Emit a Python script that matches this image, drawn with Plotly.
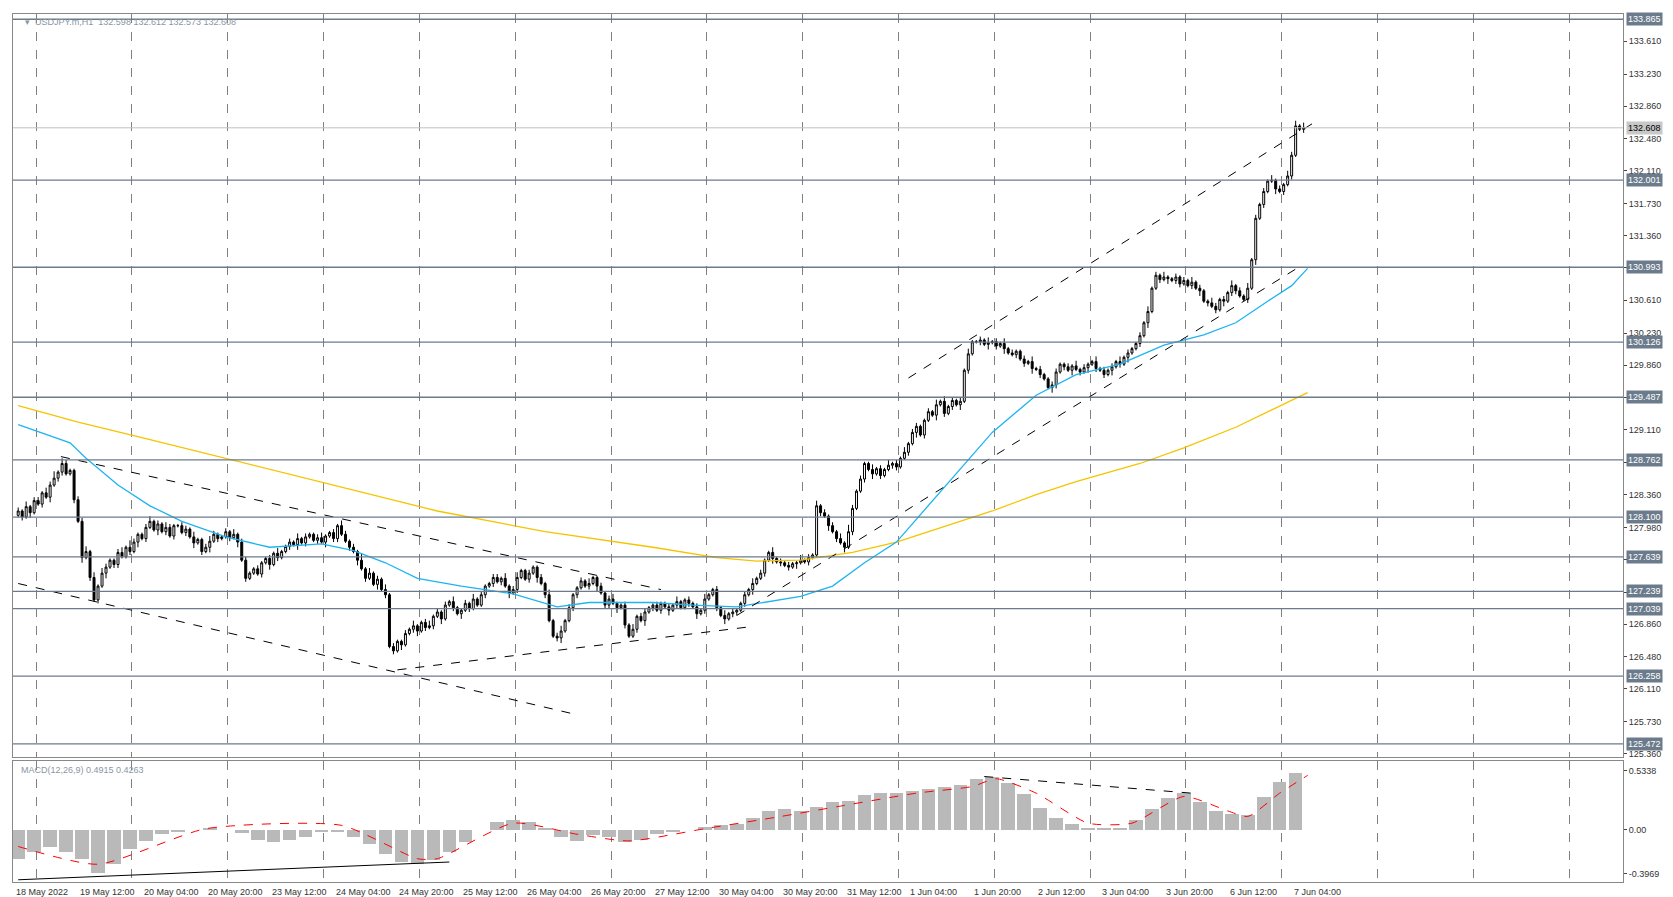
import plotly.graph_objects as go
from plotly.subplots import make_subplots

# hourly closes USDJPY, 18 May 2022 -> 7 Jun 04:00
closes = [
    128.17, 128.10, 128.22, 128.15, 128.29, 128.25, 128.38, 128.33, 128.47, 128.55, 128.62, 128.72, 128.60, 128.64, 128.30, 128.05, 127.63, 127.70, 127.40, 127.14,
    127.30, 127.45, 127.52, 127.60, 127.55, 127.69, 127.64, 127.75, 127.70, 127.81, 127.90, 127.85, 127.98, 128.05, 127.95, 128.02, 127.93, 127.98, 127.88, 128.00,
    128.00, 127.92, 127.96, 127.87, 127.80, 127.84, 127.70, 127.75, 127.82, 127.90, 127.85, 127.87, 127.93, 127.86, 127.90, 127.81, 127.60, 127.39, 127.45, 127.50,
    127.44, 127.57, 127.62, 127.55, 127.68, 127.63, 127.70, 127.76, 127.81, 127.78, 127.85, 127.80, 127.87, 127.90, 127.83, 127.86, 127.81, 127.88, 127.92, 127.85,
    128.00, 127.90, 127.82, 127.75, 127.70, 127.60, 127.50, 127.39, 127.45, 127.32, 127.38, 127.26, 127.20, 126.60, 126.55, 126.66, 126.62, 126.75, 126.80, 126.84,
    126.78, 126.88, 126.82, 126.84, 126.95, 127.00, 126.92, 127.08, 127.12, 127.05, 126.98, 127.02, 127.10, 127.04, 127.15, 127.08, 127.20, 127.30, 127.33, 127.40,
    127.35, 127.39, 127.30, 127.22, 127.26, 127.40, 127.48, 127.38, 127.45, 127.52, 127.40, 127.33, 127.20, 126.90, 126.72, 126.70, 126.78, 126.90, 127.05, 127.20,
    127.28, 127.36, 127.30, 127.33, 127.40, 127.30, 127.22, 127.08, 127.15, 127.10, 127.05, 127.08, 126.85, 126.72, 126.80, 126.95, 126.90, 127.00, 127.05, 127.08,
    127.02, 127.10, 127.06, 127.02, 127.08, 127.12, 127.05, 127.14, 127.10, 127.06, 126.98, 127.02, 127.15, 127.20, 127.26, 127.05, 126.96, 126.92, 126.98, 127.00,
    127.02, 127.10, 127.20, 127.26, 127.33, 127.39, 127.45, 127.60, 127.69, 127.62, 127.58, 127.57, 127.54, 127.52, 127.56, 127.57, 127.60, 127.58, 127.63, 127.66,
    128.23, 128.15, 128.11, 128.00, 127.93, 127.85, 127.80, 127.75, 127.93, 128.20, 128.40, 128.54, 128.72, 128.65, 128.60, 128.66, 128.58, 128.65, 128.70, 128.72,
    128.68, 128.78, 128.85, 128.95, 129.08, 129.15, 129.05, 129.22, 129.32, 129.28, 129.40, 129.44, 129.30, 129.38, 129.45, 129.40, 129.44, 129.80, 129.99, 130.13,
    130.13, 130.15, 130.10, 130.12, 130.13, 130.08, 130.11, 130.05, 130.00, 129.98, 130.02, 129.93, 129.88, 129.90, 129.82, 129.81, 129.75, 129.70, 129.60, 129.63,
    129.78, 129.87, 129.84, 129.80, 129.85, 129.81, 129.78, 129.83, 129.87, 129.90, 129.82, 129.80, 129.75, 129.80, 129.84, 129.90, 129.87, 129.95, 130.00, 130.05,
    130.11, 130.20, 130.35, 130.48, 130.75, 130.90, 130.85, 130.88, 130.86, 130.84, 130.88, 130.80, 130.84, 130.78, 130.82, 130.75, 130.72, 130.60, 130.58, 130.54,
    130.50, 130.62, 130.60, 130.70, 130.78, 130.72, 130.66, 130.62, 130.75, 131.08, 131.56, 131.72, 131.87, 131.99, 132.00, 131.90, 131.87, 131.95, 132.05, 132.29,
    132.63, 132.59, 132.608,
]
first_open = 128.12

# wick lengths in units of 0.02 (upper / lower), one digit per bar
wick_hi = ("21312213241321122313" "13211231421123121321" "12213112321121312211" "21121311213121123112"
           "13212141312131211213" "11231212131121312112" "21312311211213123121" "12131121231121312211"
           "21121311212131121312" "11213121131212113121" "31212131421211312131" "21312211213131212131"
           "12131213121121312112" "21121312113121213121" "12131213112121312113" "21213121312121312132"
           "31321")
wick_lo = ("12131121312211213121" "21312211213121131212" "11213121312112131211" "12131211213121121312"
           "21121312113121213112" "31212131121312111212" "12131211213121123112" "21121312213121121312"
           "12131211213121121312" "21213112131212131121" "12131213121121312112" "21121312113121213121"
           "12131213112121312113" "21213121312121312131" "12131121312211213121" "21312211213121131212"
           "11211")

# moving averages (bar index, value)
ma_fast_idx = [0, 9, 13, 17, 25, 33, 41, 52, 63, 76, 84, 92, 100, 111, 124, 135, 143, 159, 169, 180,
               191, 196, 204, 212, 220, 228, 236, 244, 255, 265, 276, 287, 297, 305, 313, 319, 323]
ma_fast_val = [129.17, 129.02, 128.96, 128.78, 128.47, 128.23, 128.05, 127.87, 127.75, 127.79, 127.71, 127.57,
               127.39, 127.30, 127.21, 127.06, 127.11, 127.11, 127.08, 127.06, 127.14, 127.18, 127.30, 127.57,
               127.81, 128.23, 128.66, 129.08, 129.51, 129.75, 129.87, 130.09, 130.21, 130.35, 130.60, 130.78, 130.98]
ma_slow_idx = [0, 15, 31, 52, 79, 105, 132, 159, 175, 185, 196, 209, 220, 233, 244, 255, 265, 281, 292, 305, 316, 323]
ma_slow_val = [129.39, 129.20, 129.02, 128.78, 128.47, 128.17, 127.93, 127.75, 127.63, 127.59, 127.60, 127.69,
               127.81, 128.00, 128.17, 128.36, 128.51, 128.72, 128.90, 129.14, 129.39, 129.54]

# MACD histogram, one value every 4 bars
macd_hist = [-0.26, -0.20, -0.15, -0.20, -0.26, -0.39, -0.31, -0.17, -0.10, -0.04, -0.02, 0.00, 0.01, 0.00,
             -0.03, -0.09, -0.11, -0.09, -0.06, -0.02, -0.02, -0.06, -0.13, -0.22, -0.29, -0.31, -0.27, -0.20,
             -0.11, 0.00, 0.07, 0.09, 0.07, 0.02, -0.06, -0.10, -0.05, -0.06, -0.11, -0.09, -0.04, -0.02, 0.00,
             0.03, 0.04, 0.05, 0.11, 0.17, 0.19, 0.17, 0.21, 0.25, 0.26, 0.31, 0.33, 0.33, 0.35, 0.37, 0.39, 0.40,
             0.46, 0.48, 0.42, 0.32, 0.20, 0.11, 0.05, 0.02, 0.01, 0.02, 0.09, 0.19, 0.29, 0.33, 0.25, 0.17, 0.14,
             0.13, 0.30, 0.43, 0.51]
signal_idx = [0, 20, 47, 81, 100, 105, 124, 140, 153, 172, 191, 207, 225, 239, 245, 255, 268, 279, 292, 303, 308, 316, 323]
signal_val = [-0.15, -0.31, 0.01, 0.04, -0.26, -0.26, 0.06, -0.04, -0.10, 0.01, 0.12, 0.22, 0.33, 0.39, 0.46,
              0.33, 0.06, 0.06, 0.30, 0.17, 0.12, 0.33, 0.49]

price_ticks = [133.610, 133.230, 132.860, 132.480, 132.110, 131.730, 131.360, 130.990, 130.610, 130.230,
               129.860, 129.480, 129.110, 128.730, 128.360, 127.980, 127.610, 127.230, 126.860, 126.480,
               126.110, 125.730, 125.360]
levels = [133.865, 132.001, 130.993, 130.126, 129.487, 128.762, 128.100, 127.639, 127.239, 127.039, 126.258, 125.472]
last_price = 132.608

time_labels = ["18 May 2022", "19 May 12:00", "20 May 04:00", "20 May 20:00", "23 May 12:00", "24 May 04:00",
               "24 May 20:00", "25 May 12:00", "26 May 04:00", "26 May 20:00", "27 May 12:00", "30 May 04:00",
               "30 May 20:00", "31 May 12:00", "1 Jun 04:00", "1 Jun 20:00", "2 Jun 12:00", "3 Jun 04:00",
               "3 Jun 20:00", "6 Jun 12:00", "7 Jun 04:00"]

# hand-drawn trend lines: (bar0, price0, bar1, price1)
trend_lines = [(10.7, 128.80, 161, 127.26), (0, 127.33, 140, 125.81), (95, 126.33, 183.5, 126.83),
               (180, 126.96, 321, 131.00), (223, 129.71, 325, 132.68)]
macd_lines = [((242, 0.48, 294, 0.33), "dash"), ((0, -0.45, 108, -0.29), "solid")]

n = len(closes)
idx = list(range(n))
opens = [first_open] + closes[:-1]
highs = [max(o, c) + 0.02 * int(w) for o, c, w in zip(opens, closes, wick_hi)]
lows = [min(o, c) - 0.02 * int(w) for o, c, w in zip(opens, closes, wick_lo)]

FONT = "Liberation Sans"
GRID = "#808080"
LEVEL = "#6b7b8c"

fig = make_subplots(rows=2, cols=1, shared_xaxes=True, row_heights=[0.86, 0.14], vertical_spacing=0.004)

fig.add_trace(go.Candlestick(
    x=idx, open=opens, high=highs, low=lows, close=closes,
    increasing=dict(line=dict(color="black", width=1), fillcolor="white"),
    decreasing=dict(line=dict(color="black", width=1), fillcolor="black"),
    whiskerwidth=0, showlegend=False, hoverinfo="skip"), row=1, col=1)
fig.add_trace(go.Scatter(x=ma_slow_idx, y=ma_slow_val, mode="lines", line=dict(color="#f5c400", width=1.3),
                         showlegend=False, hoverinfo="skip"), row=1, col=1)
fig.add_trace(go.Scatter(x=ma_fast_idx, y=ma_fast_val, mode="lines", line=dict(color="#1eb4f0", width=1.3),
                         showlegend=False, hoverinfo="skip"), row=1, col=1)
for x0, y0, x1, y1 in trend_lines:
    fig.add_trace(go.Scatter(x=[x0, x1], y=[y0, y1], mode="lines", line=dict(color="black", width=1, dash="dash"),
                             showlegend=False, hoverinfo="skip"), row=1, col=1)

fig.add_trace(go.Bar(x=list(range(0, 4 * len(macd_hist), 4)), y=macd_hist, width=3.4,
                     marker=dict(color="#b9b9b9", line=dict(width=0)), showlegend=False, hoverinfo="skip"), row=2, col=1)
fig.add_trace(go.Scatter(x=signal_idx, y=signal_val, mode="lines", line=dict(color="red", width=1, dash="dash", shape="spline", smoothing=0.6),
                         showlegend=False, hoverinfo="skip"), row=2, col=1)
for (x0, y0, x1, y1), dash in macd_lines:
    fig.add_trace(go.Scatter(x=[x0, x1], y=[y0, y1], mode="lines", line=dict(color="black", width=1, dash=dash),
                             showlegend=False, hoverinfo="skip"), row=2, col=1)

grid_x = [4.5 + 24 * k for k in range(17)]
xr = [-1.3, 402]
fig.update_xaxes(range=xr, tickvals=grid_x, showticklabels=False, showgrid=True, gridcolor=GRID, griddash="dash",
                 gridwidth=1, zeroline=False, rangeslider=dict(visible=False), showline=True, linecolor="#888", mirror=True)

tickfont = dict(family=FONT, size=9, color="#333")
fig.update_yaxes(row=1, col=1, range=[125.315, 133.926], side="right", tickvals=price_ticks,
                 ticktext=[f"{v:.3f}" for v in price_ticks], showgrid=False, zeroline=False,
                 tickfont=tickfont, ticks="outside", ticklen=3,
                 showline=True, linecolor="#888", mirror=True)
fig.update_yaxes(row=2, col=1, range=[-0.47, 0.62], side="right", tickvals=[0.5338, 0.0, -0.3969],
                 ticktext=["0.5338", "0.00", "-0.3969"], showgrid=False, zeroline=False,
                 tickfont=tickfont, ticks="outside", ticklen=3,
                 showline=True, linecolor="#888", mirror=True)

shapes = []
for lv in levels:
    shapes.append(dict(type="line", xref="x", yref="y", x0=xr[0], x1=xr[1], y0=lv, y1=lv,
                       line=dict(color=LEVEL, width=1.3)))
shapes.append(dict(type="line", xref="x", yref="y", x0=xr[0], x1=xr[1], y0=last_price, y1=last_price,
                   line=dict(color="#c0c0c0", width=1)))

annotations = []
for lv in levels:
    annotations.append(dict(xref="paper", yref="y", x=1.002, y=lv, text=f"{lv:.3f}", showarrow=False,
                            xanchor="left", yanchor="middle", bgcolor=LEVEL, borderpad=1,
                            font=dict(family=FONT, size=9, color="white")))
annotations.append(dict(xref="paper", yref="y", x=1.002, y=last_price, text=f"{last_price:.3f}", showarrow=False,
                        xanchor="left", yanchor="middle", bgcolor="#c8c8c8", borderpad=1,
                        font=dict(family=FONT, size=9, color="black")))
for k, lab in enumerate(time_labels):
    annotations.append(dict(xref="x2", yref="paper", x=16 * k - 1, y=0, text=lab, showarrow=False,
                            xanchor="left", yanchor="top", yshift=-3,
                            font=dict(family=FONT, size=9, color="#333")))
annotations.append(dict(xref="paper", yref="paper", x=0.006, y=0.999, text="▾  USDJPY.m,H1  132.598 132.612 132.573 132.608",
                        showarrow=False, xanchor="left", yanchor="top", font=dict(family=FONT, size=9, color="#8a96a4")))
annotations.append(dict(xref="paper", yref="y2", x=0.004, y=0.60, text="MACD(12,26,9) 0.4915 0.4263",
                        showarrow=False, xanchor="left", yanchor="top", font=dict(family=FONT, size=9, color="#8a96a4")))

fig.update_layout(width=1673, height=897, margin=dict(l=5, r=58, t=6, b=23),
                  plot_bgcolor="white", paper_bgcolor="white", shapes=shapes, annotations=annotations,
                  bargap=0, font=dict(family=FONT))
fig.write_html("out.html")
